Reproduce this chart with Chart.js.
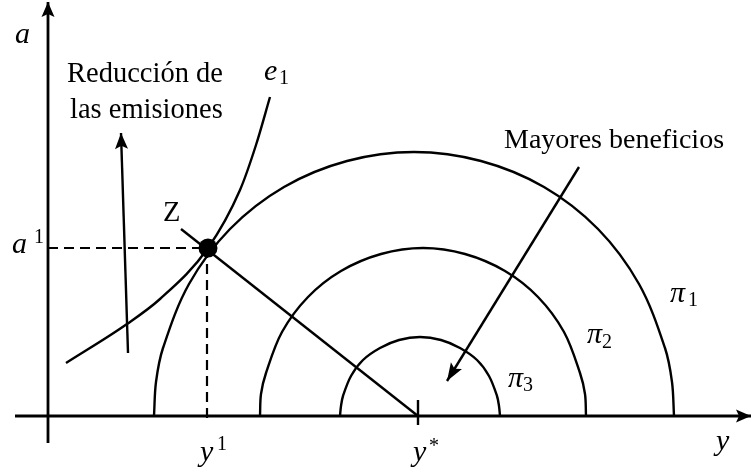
<!DOCTYPE html>
<html>
<head>
<meta charset="utf-8">
<script src="https://cdn.jsdelivr.net/npm/chart.js@4/dist/chart.umd.min.js"></script>
<style>
html,body{margin:0;padding:0;background:#fff;}
#wrap{width:753px;height:471px;position:relative;}
</style>
</head>
<body>
<div id="wrap"><canvas id="c"></canvas></div>
<script>
// ---- data (diagram coordinates: origin at the axes' crossing) ----
const arc1 = [[106,0],[108,34],[115,68],[141,132],[182,187],[236,229],[299,255],[366,264],[433,255],[496,229],[550,187],[591,132],[617,68],[624,34],[626,0]];
const arc2 = [[212,0],[213,22],[218,43],[234,84],[260,119],[293,145],[333,162],[375,168],[417,162],[457,145],[490,119],[516,84],[532,43],[537,22],[538,0]];
const arc3 = [[292,0],[293,10],[295,20],[303,40],[315,56],[332,68],[351,76],[372,79],[393,76],[412,68],[429,56],[441,40],[449,20],[451,10],[452,0]];
const e1Curve = [[18,53],[79,92],[112,117],[160,168],[192,226],[208,271],[222,319]];
const zPoint = [[160,168]];
const zLine = [[133,187],[370,0]];
const a1Dash = [[0,168],[160,168]];
const y1Dash = [[159,168],[159,-7]];
const xAxis = [[-33,0],[703,0]];
const yAxis = [[0,-27],[0,414]];
const yStarTick = [[370,-9],[370,16]];
const reduccionArrow = [[80,63],[73,283]];
const beneficiosArrow = [[531,249],[399,35]];
const textLabels = ["Reducción de","las emisiones","Mayores beneficios","Z"];
const mathLabels = ["a","a","1","e","1","π","1","π","2","π","3","y","y","1","y","*"];

const toXY = a => a.map(p => ({x:p[0], y:p[1]}));
const K = '#000';
function lineDs(pts, extra){
  return Object.assign({data:toXY(pts), showLine:true, borderColor:K, backgroundColor:K,
    borderWidth:2.4, pointRadius:0, pointHoverRadius:0, tension:0, fill:false, clip:false}, extra||{});
}

const datasets = [
  lineDs(arc1,{tension:0.34}),
  lineDs(arc2,{tension:0.34}),
  lineDs(arc3,{tension:0.34}),
  lineDs(e1Curve,{cubicInterpolationMode:'monotone'}),
  lineDs(zLine),
  lineDs(a1Dash,{borderDash:[10,6],borderWidth:2.2}),
  lineDs(y1Dash,{borderDash:[10,6],borderWidth:2.2}),
  lineDs(xAxis,{borderWidth:2.8, arrow:{len:15,w:13}}),
  lineDs(yAxis,{borderWidth:2.8, arrow:{len:15,w:13}}),
  lineDs(yStarTick,{borderWidth:2.4}),
  lineDs(reduccionArrow,{arrow:{len:16,w:13}}),
  lineDs(beneficiosArrow,{arrow:{len:18,w:13}}),
  {data:toXY(zPoint), showLine:false, pointRadius:9.5, pointBackgroundColor:K, pointBorderColor:K, pointBorderWidth:0, clip:false}
];

const SERIF = '"Liberation Serif", "Times New Roman", serif';
const diagramPlugin = {
  id:'diagram',
  afterDatasetsDraw(chart){
    const ctx = chart.ctx, xs = chart.scales.x, ys = chart.scales.y;
    chart.data.datasets.forEach((ds,i)=>{
      if(!ds.arrow) return;
      const pts = chart.getDatasetMeta(i).data;
      const a = pts[pts.length-2], b = pts[pts.length-1];
      const ang = Math.atan2(b.y-a.y, b.x-a.x);
      const L = ds.arrow.len, W = ds.arrow.w;
      ctx.save();
      ctx.translate(b.x,b.y); ctx.rotate(ang);
      ctx.fillStyle = K;
      ctx.beginPath();
      ctx.moveTo(0,0); ctx.lineTo(-L,W/2); ctx.lineTo(-L*0.8,0); ctx.lineTo(-L,-W/2);
      ctx.closePath(); ctx.fill();
      ctx.restore();
    });
    const T = (s,x,y,font) => {
      ctx.save(); ctx.font = font; ctx.fillStyle = K; ctx.textBaseline='alphabetic'; ctx.textAlign='left';
      ctx.fillText(s, xs.getPixelForValue(x), ys.getPixelForValue(y)); ctx.restore();
    };
    const R = '28.5px '+SERIF, I = 'italic 30px '+SERIF, S = '20px '+SERIF;
    T(textLabels[0], 19, 334, R);
    T(textLabels[1], 22, 298, R);
    T(textLabels[2], 456, 268, '28px '+SERIF);
    T(textLabels[3], 115, 195, R);
    T(mathLabels[0], -33, 373, I);
    T(mathLabels[1], -36, 163, I); T(mathLabels[2], -14, 173, S);
    T(mathLabels[3], 216, 336, I); T(mathLabels[4], 231, 332, S);
    T(mathLabels[5], 622, 114, I); T(mathLabels[6], 640, 110, S);
    T(mathLabels[7], 539, 73, I);  T(mathLabels[8], 554, 68, S);
    T(mathLabels[9], 460, 29, I);  T(mathLabels[10], 475, 25, S);
    T(mathLabels[11], 668, -34, I);
    T(mathLabels[12], 152, -45, I); T(mathLabels[13], 169, -34, S);
    T(mathLabels[14], 365, -45, I); T(mathLabels[15], 381, -36, S);
  }
};

new Chart(document.getElementById('c'), {
  type:'scatter',
  data:{datasets},
  options:{
    responsive:true, maintainAspectRatio:false, animation:false, devicePixelRatio:1,
    layout:{padding:0, autoPadding:false},
    plugins:{legend:{display:false}, tooltip:{enabled:false}},
    events:[],
    scales:{
      x:{type:'linear', min:-48, max:705, display:false},
      y:{type:'linear', min:-55, max:416, display:false}
    }
  },
  plugins:[diagramPlugin]
});
</script>
</body>
</html>
